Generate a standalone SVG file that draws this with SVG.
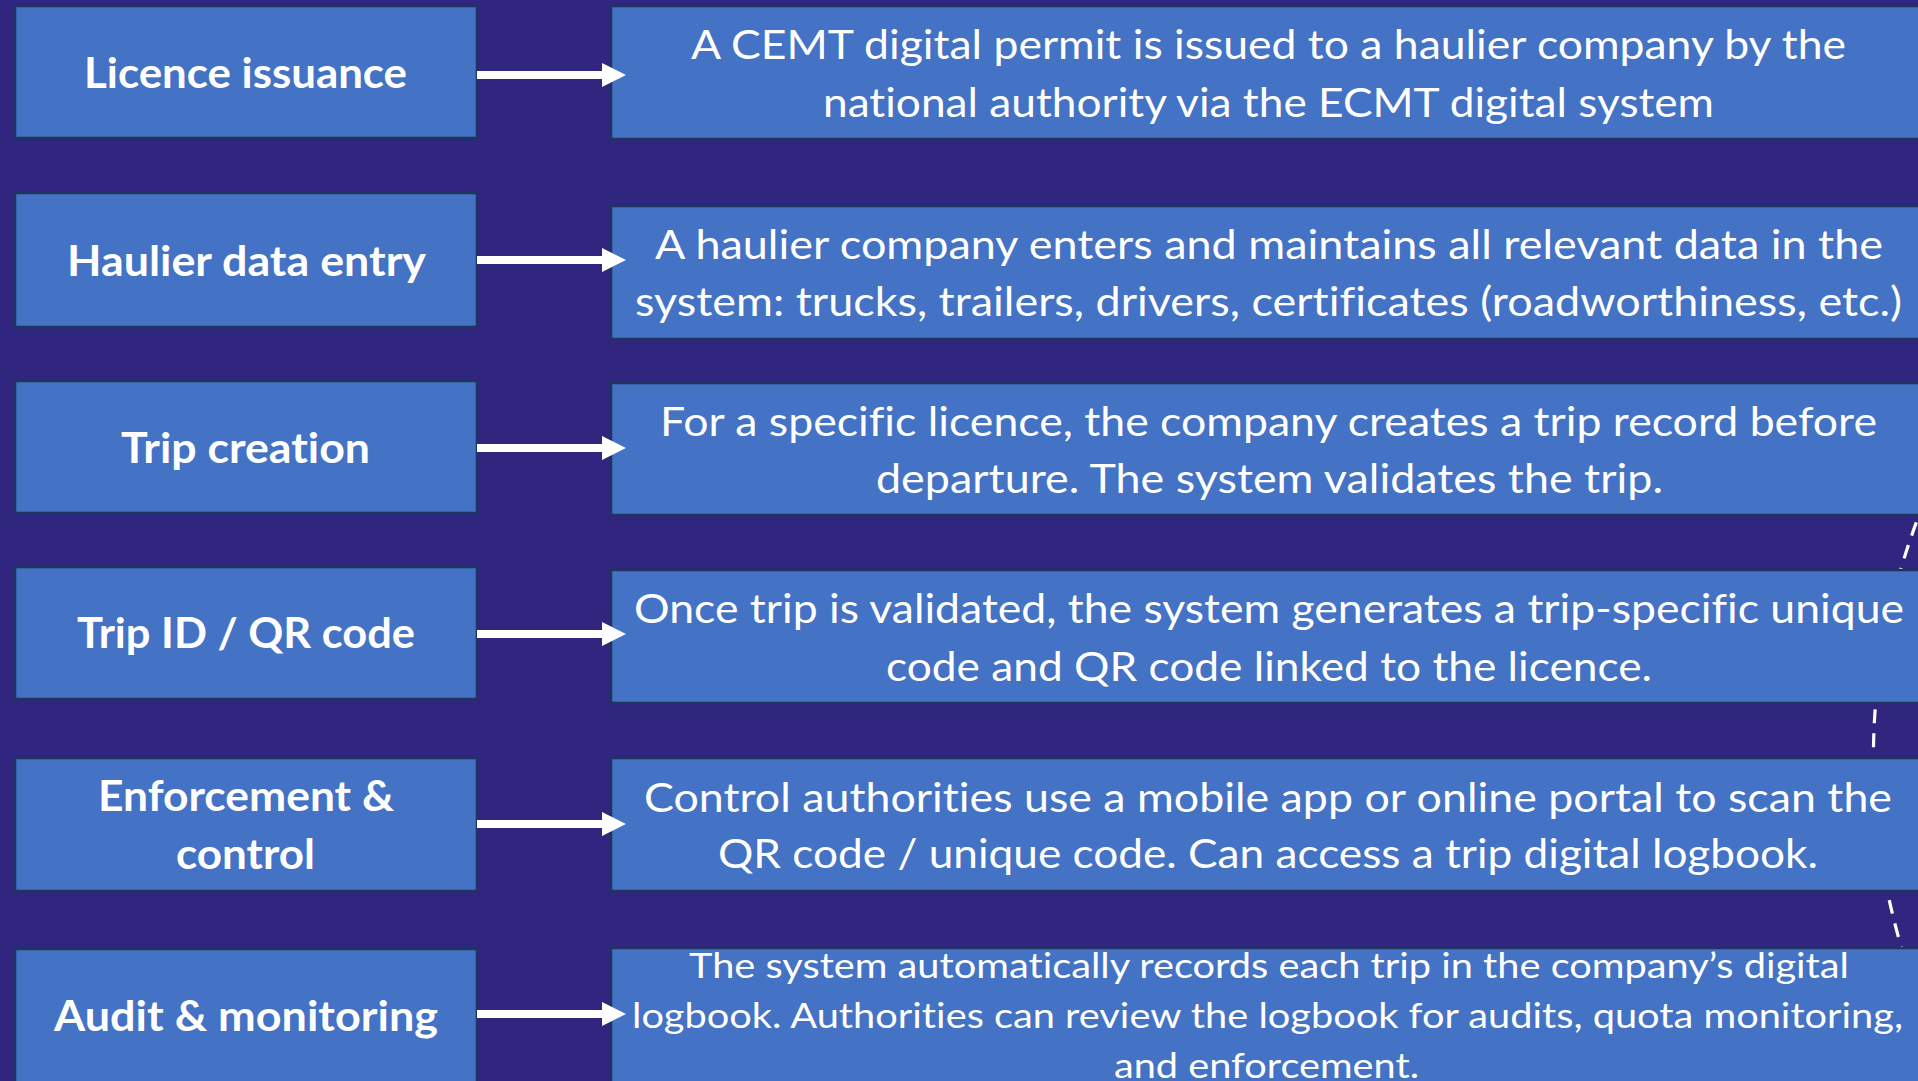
<svg xmlns="http://www.w3.org/2000/svg" width="1918" height="1081" viewBox="0 0 1918 1081">
<style>
.bg{fill:#31267F}
.box{fill:#4472C4;stroke:#1E3560;stroke-width:2.5}
.lbl{font-family:Lato,"Open Sans","Liberation Sans",sans-serif;font-weight:700;font-size:42px;fill:#FFFFFF;font-variant-ligatures:none}
.txt{font-family:Lato,"Open Sans","Liberation Sans",sans-serif;font-weight:400;font-size:40px;fill:#FFFFFF;font-variant-ligatures:none}
.sm{font-size:35px}
.arr{stroke:#FFFFFF;stroke-width:8;fill:none}
.dash{stroke:#FFFFFF;stroke-width:3.2;fill:none;stroke-dasharray:14 10}
</style>
<defs>
<marker id="head" markerUnits="userSpaceOnUse" markerWidth="24" markerHeight="24" refX="0" refY="12" orient="auto">
<path d="M0,0 L24,12 L0,24 Z" fill="#FFFFFF"/>
</marker>
</defs>
<rect class="bg" x="0" y="0" width="1918" height="1081"/>

<g id="connectors-dashed">
<path class="dash" d="M1925,500 Q1830,735 1910,975"/>
</g>

<g id="node-licence-issuance">
<rect class="box" x="15" y="6" width="462" height="132"/>
<text class="lbl" x="84" y="88" textLength="323" lengthAdjust="spacingAndGlyphs">Licence issuance</text>
</g>
<g id="node-haulier-data-entry">
<rect class="box" x="15" y="193" width="462" height="134"/>
<text class="lbl" x="67" y="276" textLength="359" lengthAdjust="spacingAndGlyphs">Haulier data entry</text>
</g>
<g id="node-trip-creation">
<rect class="box" x="15" y="381" width="462" height="132"/>
<text class="lbl" x="121" y="463" textLength="249" lengthAdjust="spacingAndGlyphs">Trip creation</text>
</g>
<g id="node-trip-id">
<rect class="box" x="15" y="567" width="462" height="132"/>
<text class="lbl" x="77" y="648" textLength="338" lengthAdjust="spacingAndGlyphs">Trip ID / QR code</text>
</g>
<g id="node-enforcement">
<rect class="box" x="15" y="758" width="462" height="133"/>
<text class="lbl" x="98" y="811" textLength="296" lengthAdjust="spacingAndGlyphs">Enforcement &amp;</text>
<text class="lbl" x="176" y="869" textLength="139" lengthAdjust="spacingAndGlyphs">control</text>
</g>
<g id="node-audit">
<rect class="box" x="15" y="949" width="462" height="140"/>
<text class="lbl" x="54" y="1031" textLength="384" lengthAdjust="spacingAndGlyphs">Audit &amp; monitoring</text>
</g>

<g id="desc-licence">
<rect class="box" x="611" y="6" width="1320" height="133"/>
<text class="txt" x="691" y="59" textLength="1155" lengthAdjust="spacingAndGlyphs">A CEMT digital permit is issued to a haulier company by the</text>
<text class="txt" x="823" y="117" textLength="891" lengthAdjust="spacingAndGlyphs">national authority via the ECMT digital system</text>
</g>
<g id="desc-haulier">
<rect class="box" x="611" y="206" width="1320" height="133"/>
<text class="txt" x="655" y="259" textLength="1228" lengthAdjust="spacingAndGlyphs">A haulier company enters and maintains all relevant data in the</text>
<text class="txt" x="635" y="316" textLength="1267" lengthAdjust="spacingAndGlyphs">system: trucks, trailers, drivers, certificates (roadworthiness, etc.)</text>
</g>
<g id="desc-trip-creation">
<rect class="box" x="611" y="383" width="1320" height="132"/>
<text class="txt" x="660" y="436" textLength="1217" lengthAdjust="spacingAndGlyphs">For a specific licence, the company creates a trip record before</text>
<text class="txt" x="876" y="493" textLength="787" lengthAdjust="spacingAndGlyphs">departure. The system validates the trip.</text>
</g>
<g id="desc-trip-id">
<rect class="box" x="611" y="570" width="1320" height="133"/>
<text class="txt" x="634" y="623" textLength="1270" lengthAdjust="spacingAndGlyphs">Once trip is validated, the system generates a trip-specific unique</text>
<text class="txt" x="886" y="681" textLength="766" lengthAdjust="spacingAndGlyphs">code and QR code linked to the licence.</text>
</g>
<g id="desc-enforcement">
<rect class="box" x="611" y="758" width="1320" height="133"/>
<text class="txt" x="644" y="812" textLength="1248" lengthAdjust="spacingAndGlyphs">Control authorities use a mobile app or online portal to scan the</text>
<text class="txt" x="718" y="868" textLength="1100" lengthAdjust="spacingAndGlyphs">QR code / unique code. Can access a trip digital logbook.</text>
</g>
<g id="desc-audit">
<rect class="box" x="611" y="948" width="1320" height="140"/>
<text class="txt sm" x="689" y="978" textLength="1160" lengthAdjust="spacingAndGlyphs">The system automatically records each trip in the company’s digital</text>
<text class="txt sm" x="632" y="1028" textLength="1271" lengthAdjust="spacingAndGlyphs">logbook. Authorities can review the logbook for audits, quota monitoring,</text>
<text class="txt sm" x="1114" y="1078" textLength="305" lengthAdjust="spacingAndGlyphs">and enforcement.</text>
</g>

<g id="connectors">
<line class="arr" x1="477" y1="75" x2="602" y2="75" marker-end="url(#head)"/>
<line class="arr" x1="477" y1="260" x2="602" y2="260" marker-end="url(#head)"/>
<line class="arr" x1="477" y1="448" x2="602" y2="448" marker-end="url(#head)"/>
<line class="arr" x1="477" y1="634" x2="602" y2="634" marker-end="url(#head)"/>
<line class="arr" x1="477" y1="824" x2="602" y2="824" marker-end="url(#head)"/>
<line class="arr" x1="477" y1="1014" x2="602" y2="1014" marker-end="url(#head)"/>
</g>
</svg>
